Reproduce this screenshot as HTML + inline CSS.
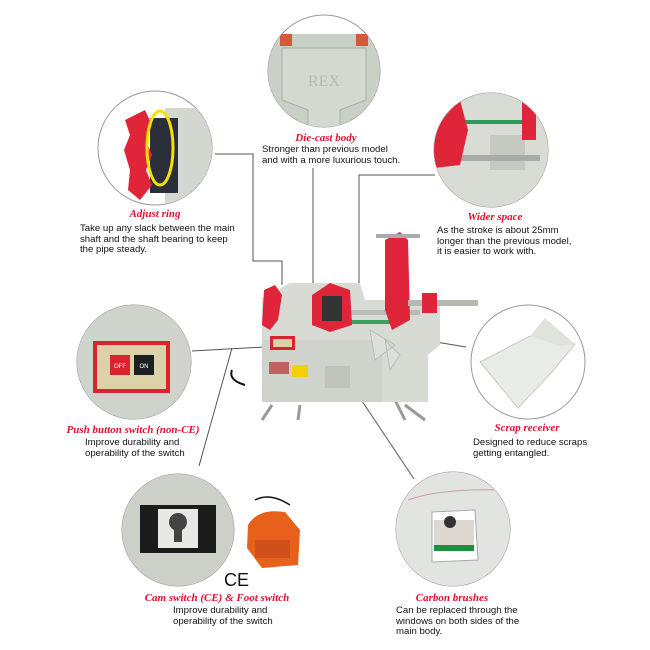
<!DOCTYPE html>
<html><head><meta charset="utf-8"><style>
html,body{margin:0;padding:0;background:#fff;}
svg{display:block;}
.t{font-family:"Liberation Serif",serif;font-weight:bold;font-style:italic;fill:#e0102f;font-size:11px;}
.b{font-family:"Liberation Sans",sans-serif;fill:#111;font-size:9.6px;}
</style></head><body>
<svg width="650" height="650" viewBox="0 0 650 650" xmlns="http://www.w3.org/2000/svg">
<defs>
<clipPath id="c1"><circle cx="324" cy="71" r="56"/></clipPath>
<clipPath id="c2"><circle cx="155" cy="148" r="57"/></clipPath>
<clipPath id="c3"><circle cx="491" cy="150" r="57"/></clipPath>
<clipPath id="c4"><circle cx="134" cy="362" r="57"/></clipPath>
<clipPath id="c5"><circle cx="528" cy="362" r="57"/></clipPath>
<clipPath id="c6"><circle cx="178" cy="530" r="56"/></clipPath>
<clipPath id="c7"><circle cx="453" cy="529" r="57"/></clipPath>
</defs>
<!-- connector lines -->
<g stroke="#555" stroke-width="1" fill="none">
<polyline points="215,154 253,154 253,261 282,261 282,285"/>
<line x1="313" y1="168" x2="313" y2="290"/>
<polyline points="435,175 359,175 359,320"/>
<line x1="192" y1="351" x2="265" y2="347"/>
<line x1="232" y1="348" x2="199" y2="466"/>
<line x1="466" y1="347" x2="412" y2="338"/>
<line x1="350" y1="383" x2="414" y2="479"/>
</g>
<!-- die-cast -->
<circle cx="324" cy="71" r="56" fill="#fff" stroke="#999"/>
<g clip-path="url(#c1)">
<rect x="268" y="34" width="112" height="100" fill="#c9d0c6"/>
<rect x="280" y="34" width="12" height="12" fill="#d65a3a"/>
<rect x="356" y="34" width="12" height="12" fill="#d65a3a"/>
<path d="M282 48 L366 48 L366 100 L340 110 L340 134 L308 134 L308 110 L282 100Z" fill="#d3d9d0" stroke="#a9b0a6"/>
<text x="324" y="86" text-anchor="middle" font-family="Liberation Serif" font-size="16" fill="#b5bcb2">REX</text>
</g>
<!-- adjust ring -->
<circle cx="155" cy="148" r="57" fill="#fff" stroke="#999"/>
<g clip-path="url(#c2)">
<rect x="165" y="108" width="60" height="100" fill="#d2d7cf"/>
<rect x="150" y="118" width="28" height="75" fill="#2b2f3a"/>
<path d="M125 120 L145 110 L152 125 L146 140 L152 155 L146 170 L152 185 L140 200 L128 190 L130 170 L124 150 L130 135Z" fill="#e0243a"/>
<ellipse cx="160" cy="148" rx="13" ry="37" fill="none" stroke="#f5e000" stroke-width="3"/>
</g>
<!-- wider space -->
<circle cx="491" cy="150" r="57" fill="#fff" stroke="#999"/>
<g clip-path="url(#c3)">
<rect x="434" y="93" width="114" height="114" fill="#d8dcd5"/>
<rect x="490" y="135" width="35" height="35" fill="#c5c9c2"/>
<rect x="455" y="120" width="75" height="4" fill="#2a9a5a"/>
<rect x="455" y="155" width="85" height="6" fill="#aaa"/>
<path d="M434 105 L460 100 L468 130 L460 165 L434 168Z" fill="#e0243a"/>
<rect x="522" y="100" width="14" height="40" fill="#e0243a"/>
</g>
<!-- push button -->
<circle cx="134" cy="362" r="57" fill="#fff" stroke="#999"/>
<g clip-path="url(#c4)">
<rect x="77" y="305" width="114" height="114" fill="#ced3cb"/>
<rect x="93" y="341" width="77" height="52" fill="#d8242e"/>
<rect x="97" y="345" width="69" height="44" fill="#dcd2a8"/>
<rect x="110" y="355" width="20" height="20" fill="#d8242e"/>
<rect x="134" y="355" width="20" height="20" fill="#1c2022"/>
<text x="120" y="368" text-anchor="middle" font-family="Liberation Sans" font-size="6" fill="#fff">OFF</text>
<text x="144" y="368" text-anchor="middle" font-family="Liberation Sans" font-size="6" fill="#fff">ON</text>
</g>
<!-- scrap receiver -->
<circle cx="528" cy="362" r="57" fill="#fff" stroke="#999"/>
<path d="M480 362 L530 336 L560 336 L575 344 L552 372 L518 408 Z" fill="#e8ebe6" stroke="#c8ccc5"/>
<path d="M530 336 L545 318 L575 344 L560 346Z" fill="#dfe3dc"/>
<!-- cam switch -->
<circle cx="178" cy="530" r="56" fill="#fff" stroke="#999"/>
<g clip-path="url(#c6)">
<rect x="122" y="474" width="112" height="112" fill="#ccd0c9"/>
<rect x="140" y="505" width="76" height="48" fill="#1b1b1b"/>
<rect x="158" y="509" width="40" height="39" fill="#e8e8e6"/>
<circle cx="178" cy="522" r="9" fill="#444"/>
<rect x="174" y="522" width="8" height="20" fill="#444"/>
</g>
<!-- foot switch -->
<path d="M255 500 Q270 492 290 505" stroke="#111" fill="none" stroke-width="1.5"/>
<path d="M248 525 Q258 508 285 512 L300 530 L298 565 L262 568 L247 548Z" fill="#e8611c"/>
<rect x="255" y="540" width="35" height="18" fill="#d0501a"/>
<text x="224" y="586" font-family="Liberation Sans" font-size="18" fill="#111">CE</text>
<!-- carbon brushes -->
<circle cx="453" cy="529" r="57" fill="#fff" stroke="#999"/>
<g clip-path="url(#c7)">
<rect x="396" y="472" width="114" height="114" fill="#e2e4e1"/>
<path d="M408 500 Q440 488 505 490" stroke="#c9a0a0" fill="none"/>
<path d="M432 512 L475 510 L478 560 L432 562Z" fill="#fff" stroke="#aaa"/>
<rect x="434" y="520" width="40" height="25" fill="#ddd9d2"/>
<circle cx="450" cy="522" r="6" fill="#333"/>
<rect x="434" y="545" width="40" height="6" fill="#1d9040"/>
</g>
<!-- machine -->
<g>
<path d="M232 370 Q228 380 245 385" stroke="#111" fill="none" stroke-width="2"/>
<path d="M272 405 L262 420 M300 405 L298 420 M405 405 L425 420 M395 400 L405 420" stroke="#999" stroke-width="3"/>
<path d="M262 298 L290 283 L360 283 L365 300 L440 300 L440 345 L428 355 L428 402 L262 402Z" fill="#d7dbd3"/>
<rect x="262" y="340" width="120" height="62" fill="#cfd3cb"/>
<rect x="270" y="336" width="25" height="14" fill="#d8242e"/>
<rect x="273" y="339" width="19" height="8" fill="#dcd2a8"/>
<rect x="269" y="362" width="20" height="12" fill="#c06060"/>
<rect x="292" y="365" width="16" height="12" fill="#f5d000"/>
<rect x="325" y="366" width="25" height="22" fill="#bfc4bb"/>
<rect x="320" y="310" width="100" height="5" fill="#bbb"/>
<rect x="320" y="320" width="70" height="4" fill="#3aa060"/>
<path d="M264 290 L275 285 L282 295 L278 320 L270 330 L262 325Z" fill="#e0243a"/>
<path d="M312 295 L330 283 L350 290 L352 325 L330 332 L312 325Z" fill="#e0243a"/>
<rect x="322" y="296" width="20" height="25" fill="#333"/>
<path d="M385 240 L400 232 L408 240 L410 320 L392 330 L385 310Z" fill="#e0243a"/>
<path d="M376 236 L420 236" stroke="#aaa" stroke-width="4"/>
<rect x="408" y="300" width="70" height="6" fill="#b5b9b0"/>
<rect x="422" y="293" width="15" height="20" fill="#e0243a"/>
<path d="M370 330 L395 345 L375 360 Z M385 340 L390 370 L400 355 Z" fill="#dcdfd9" stroke="#bbb"/>
</g>
<!-- texts -->
<text class="t" x="326" y="141" text-anchor="middle">Die-cast body</text>
<text class="b" x="262" y="152">Stronger than previous model</text>
<text class="b" x="262" y="163">and with a more luxurious touch.</text>
<text class="t" x="155" y="217" text-anchor="middle">Adjust ring</text>
<text class="b" x="80" y="231">Take up any slack between the main</text>
<text class="b" x="80" y="242">shaft and the shaft bearing to keep</text>
<text class="b" x="80" y="252">the pipe steady.</text>
<text class="t" x="495" y="220" text-anchor="middle">Wider space</text>
<text class="b" x="437" y="233">As the stroke is about 25mm</text>
<text class="b" x="437" y="244">longer than the previous model,</text>
<text class="b" x="437" y="254">it is easier to work with.</text>
<text class="t" x="133" y="433" text-anchor="middle">Push button switch (non-CE)</text>
<text class="b" x="85" y="445">Improve durability and</text>
<text class="b" x="85" y="456">operability of the switch</text>
<text class="t" x="527" y="431" text-anchor="middle">Scrap receiver</text>
<text class="b" x="473" y="445">Designed to reduce scraps</text>
<text class="b" x="473" y="456">getting entangled.</text>
<text class="t" x="217" y="601" text-anchor="middle">Cam switch (CE) &amp; Foot switch</text>
<text class="b" x="173" y="613">Improve durability and</text>
<text class="b" x="173" y="624">operability of the switch</text>
<text class="t" x="452" y="601" text-anchor="middle">Carbon brushes</text>
<text class="b" x="396" y="613">Can be replaced through the</text>
<text class="b" x="396" y="624">windows on both sides of the</text>
<text class="b" x="396" y="634">main body.</text>
</svg>
</body></html>
